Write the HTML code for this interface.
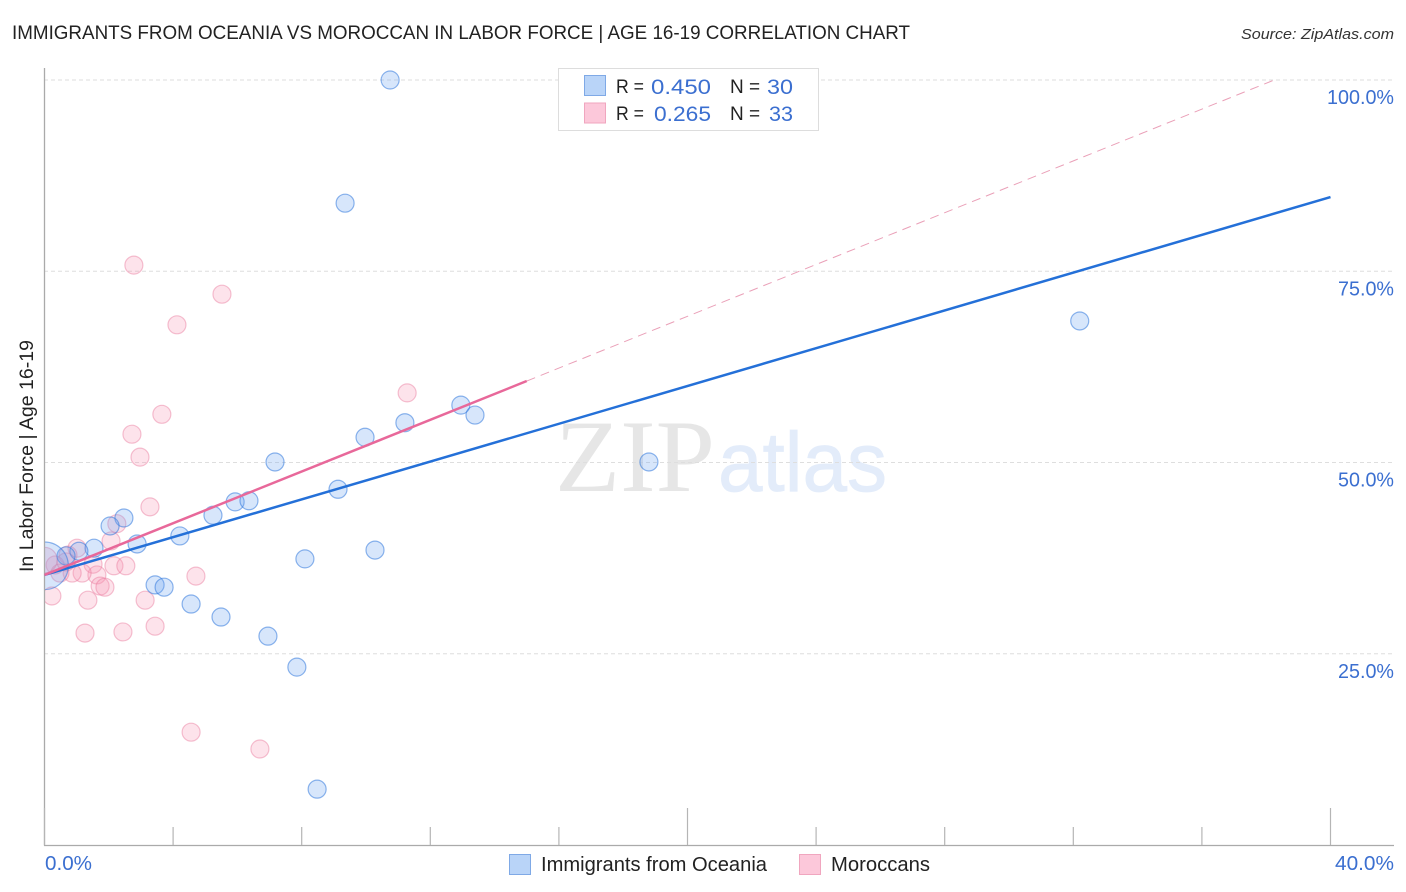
<!DOCTYPE html>
<html lang="en">
<head>
<meta charset="utf-8">
<title>Immigrants from Oceania vs Moroccan in Labor Force | Age 16-19 Correlation Chart</title>
<style>
html,body{margin:0;padding:0;background:#fff;width:1406px;height:892px;overflow:hidden}
svg{display:block}
text{font-family:"Liberation Sans",sans-serif}
</style>
</head>
<body>
<svg id="chart" xmlns="http://www.w3.org/2000/svg" width="1406" height="892" viewBox="0 0 1406 892">
  <text x="12" y="39" font-size="19.5" fill="#222" textLength="898" lengthAdjust="spacingAndGlyphs">IMMIGRANTS FROM OCEANIA VS MOROCCAN IN LABOR FORCE | AGE 16-19 CORRELATION CHART</text>
  <text x="1241" y="39" font-size="15" font-style="italic" fill="#333" textLength="153" lengthAdjust="spacingAndGlyphs">Source: ZipAtlas.com</text>
  <text x="555" y="491" font-size="103" font-weight="400" fill="#e6e6e6" textLength="160" lengthAdjust="spacingAndGlyphs" style="font-family:'Liberation Serif',serif">ZIP</text>
  <text x="718" y="491" font-size="84" fill="#e3ecfa" stroke="#e3ecfa" stroke-width="0.8" textLength="169" lengthAdjust="spacingAndGlyphs">atlas</text>
  <g id="grid"></g>
  <g id="points-pink"></g>
  <g id="points-blue"></g>
  <rect x="0" y="60" width="44.5" height="790" fill="#fff"/>
  <g id="axes"></g>
  <g id="lines"></g>
  <g id="labels"></g>
  <text transform="translate(33,456) rotate(-90)" font-size="19" fill="#222" text-anchor="middle" textLength="232" lengthAdjust="spacingAndGlyphs">In Labor Force | Age 16-19</text>

  <g>
    <rect x="558.5" y="68.5" width="260" height="62" fill="#fff" stroke="#ddd" stroke-width="1"/>
    <rect x="584.5" y="75.5" width="21" height="20" fill="#b9d4f8" stroke="#7fa9e6" stroke-width="1"/>
    <rect x="584.5" y="103" width="21" height="20" fill="#fcc8da" stroke="#f0a6bf" stroke-width="1"/>
    <text x="616" y="93" font-size="19" fill="#222" textLength="28" lengthAdjust="spacingAndGlyphs">R =</text>
    <text x="651" y="94" font-size="21.5" fill="#3b6fd0" textLength="60" lengthAdjust="spacingAndGlyphs">0.450</text>
    <text x="730" y="93" font-size="19" fill="#222">N =</text>
    <text x="767" y="94" font-size="21.5" fill="#3b6fd0" textLength="26" lengthAdjust="spacingAndGlyphs">30</text>
    <text x="616" y="120" font-size="19" fill="#222" textLength="28" lengthAdjust="spacingAndGlyphs">R =</text>
    <text x="654" y="121" font-size="21.5" fill="#3b6fd0" textLength="57" lengthAdjust="spacingAndGlyphs">0.265</text>
    <text x="730" y="120" font-size="19" fill="#222">N =</text>
    <text x="769" y="121" font-size="21.5" fill="#3b6fd0" textLength="24" lengthAdjust="spacingAndGlyphs">33</text>
  </g>

  <g>
    <rect x="509.5" y="854.5" width="21" height="20" fill="#b9d4f8" stroke="#7fa9e6" stroke-width="1"/>
    <text x="541" y="871" font-size="20" fill="#222" textLength="226" lengthAdjust="spacingAndGlyphs">Immigrants from Oceania</text>
    <rect x="799.5" y="854.5" width="21" height="20" fill="#fcc8da" stroke="#f0a6bf" stroke-width="1"/>
    <text x="831" y="871" font-size="20" fill="#222" textLength="99" lengthAdjust="spacingAndGlyphs">Moroccans</text>
  </g>
</svg>
<script>
const yTickValues = [25, 50, 75, 100];
const yTickLabels = ["25.0%", "50.0%", "75.0%", "100.0%"];
const xTickValues = [0, 4, 8, 12, 16, 20, 24, 28, 32, 36, 40];
const xMajorTicks = [0, 20, 40];
const xEndValues = [0, 40];
const xEndLabels = ["0.0%", "40.0%"];

const blueX = [10.75, 9.35, 32.2, 12.95, 13.39, 11.21, 9.97, 18.8, 7.17, 9.13, 5.93, 6.36, 5.24, 2.47, 2.04, 4.21, 2.88, 1.54, 1.07, 0.67, 10.28, 8.1, 3.44, 3.72, 4.56, 5.49, 6.95, 7.85, 8.48, 0];
const blueY = [100, 83.9, 68.5, 57.5, 56.2, 55.2, 53.3, 50.07, 50.07, 46.5, 44.85, 45, 43.1, 42.75, 41.7, 40.4, 39.35, 38.8, 38.4, 37.8, 38.55, 37.4, 34, 33.7, 31.5, 29.8, 27.3, 23.25, 7.3, 36.5];
const blueWeight = [1, 1, 1, 1, 1, 1, 1, 1, 1, 1, 1, 1, 1, 1, 1, 1, 1, 1, 1, 1, 1, 1, 1, 1, 1, 1, 1, 1, 1, 7];

const pinkX = [2.78, 5.52, 4.12, 11.28, 3.65, 2.72, 2.97, 3.28, 2.25, 2.07, 1.01, 0.73, 0.33, 1.51, 2.16, 2.53, 1.63, 1.17, 0.86, 0.48, 4.71, 1.73, 1.88, 0.23, 1.35, 3.13, 3.44, 1.26, 2.44, 4.56, 6.7, 0, 0.67];
const pinkY = [75.8, 72, 68, 59.1, 56.3, 53.7, 50.7, 44.2, 42, 39.75, 38.8, 37.9, 36.6, 36.7, 36.5, 36.5, 35.3, 35.55, 35.55, 35.55, 35.15, 33.85, 33.7, 32.55, 32, 32, 28.6, 27.7, 27.85, 14.75, 12.55, 37.25, 37];
const pinkWeight = [1, 1, 1, 1, 1, 1, 1, 1, 1, 1, 1, 1, 1, 1, 1, 1, 1, 1, 1, 1, 1, 1, 1, 1, 1, 1, 1, 1, 1, 1, 1, 2, 1];

const blueTrendX = [0, 40];
const blueTrendY = [35.3, 84.7];
const pinkTrendX = [0, 15];
const pinkTrendY = [35.3, 60.65];
const pinkExtendX = [15, 38.25];
const pinkExtendY = [60.65, 100];

const NS = "http://www.w3.org/2000/svg";
function sx(v) { return 44.5 + v * 32.15; }
function sy(v) { return 845 - v * 7.65; }
function add(parent, tag, attrs) {
  const el = document.createElementNS(NS, tag);
  for (const k in attrs) el.setAttribute(k, attrs[k]);
  document.getElementById(parent).appendChild(el);
  return el;
}

const yLabelWidths = [56, 56, 56, 67];
yTickValues.forEach(function (v, i) {
  const g = add("grid", "line", { x1: 44, x2: 1394, y1: sy(v), y2: sy(v), stroke: "#dedede", "stroke-width": 1, "stroke-dasharray": "4 3" });
  
  
  const t = add("labels", "text", { x: 1394 - yLabelWidths[i], y: sy(v) + 24, "font-size": 20, fill: "#3b6fd0", textLength: yLabelWidths[i], lengthAdjust: "spacingAndGlyphs" });
  t.textContent = yTickLabels[i];
  
  
});

const yAxis = add("axes", "line", { x1: 44.5, x2: 44.5, y1: 68, y2: 845.5, stroke: "#aaa", "stroke-width": 1.3 });


const xAxis = add("axes", "line", { x1: 44, x2: 1394, y1: 845.5, y2: 845.5, stroke: "#aaa", "stroke-width": 1.3 });



xTickValues.forEach(function (v) {
  const top = xMajorTicks.indexOf(v) >= 0 ? 808 : 827;
  const tick = add("axes", "line", { x1: sx(v), x2: sx(v), y1: top, y2: 845, stroke: "#b5b5b5", "stroke-width": 1.2 });
  
  
});

const xLabelWidths = [47, 59];
xEndValues.forEach(function (v, i) {
  const t = add("labels", "text", { x: i === 0 ? sx(v) + 0.5 : 1394 - xLabelWidths[i], y: 870, "font-size": 20, fill: "#3b6fd0", textLength: xLabelWidths[i], lengthAdjust: "spacingAndGlyphs" });
  t.textContent = xEndLabels[i];
  
  
});

pinkX.forEach(function (x, i) {
  const c = add("points-pink", "circle", { cx: sx(x), cy: sy(pinkY[i]), r: 9 * Math.sqrt(pinkWeight[i]), fill: "rgba(248,150,180,0.27)", stroke: "rgba(232,120,155,0.45)", "stroke-width": 1.2 });
  
  
});

blueX.forEach(function (x, i) {
  const c = add("points-blue", "circle", { cx: sx(x), cy: sy(blueY[i]), r: 9 * Math.sqrt(blueWeight[i]), fill: "rgba(110,165,240,0.28)", stroke: "rgba(50,120,220,0.55)", "stroke-width": 1.2 });
  
  
});

const pe = add("lines", "line", { x1: sx(pinkExtendX[0]), y1: sy(pinkExtendY[0]), x2: sx(pinkExtendX[1]), y2: sy(pinkExtendY[1]), stroke: "#eaa0b8", "stroke-width": 1, "stroke-dasharray": "9 6" });


const bl = add("lines", "line", { x1: sx(blueTrendX[0]), y1: sy(blueTrendY[0]), x2: sx(blueTrendX[1]), y2: sy(blueTrendY[1]), stroke: "#2470d8", "stroke-width": 2.5 });


const pl = add("lines", "line", { x1: sx(pinkTrendX[0]), y1: sy(pinkTrendY[0]), x2: sx(pinkTrendX[1]), y2: sy(pinkTrendY[1]), stroke: "#e8689a", "stroke-width": 2.5 });


</script>
</body>
</html>
